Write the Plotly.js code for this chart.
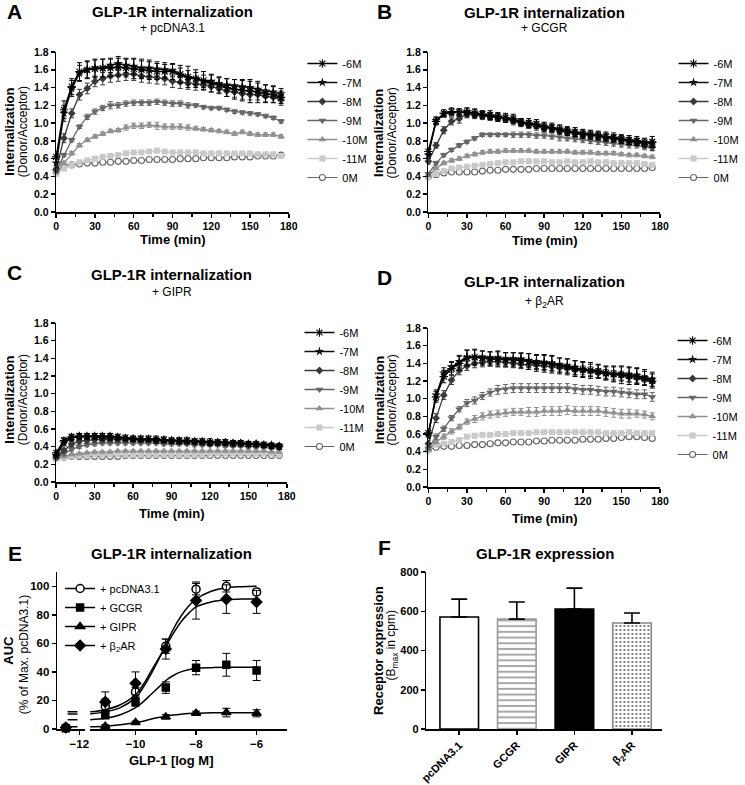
<!DOCTYPE html>
<html><head><meta charset="utf-8">
<script src="https://cdn.plot.ly/plotly-3.0.1.min.js"></script>
<style>html,body{margin:0;padding:0;background:#fff}#chart{width:745px;height:785px}</style>
</head><body><div id="chart"></div>
<script>
// time course, minutes
const time = [0,6,12,18,24,30,36,42,48,54,60,66,72,78,84,90,96,102,108,114,120,126,132,138,144,150,156,162,168,174];
const doses = ['-6M','-7M','-8M','-9M','-10M','-11M','0M'];

// A: + pcDNA3.1
const aM6 = [0.62,1.15,1.41,1.58,1.60,1.61,1.62,1.62,1.63,1.62,1.61,1.60,1.59,1.58,1.58,1.58,1.55,1.52,1.50,1.48,1.45,1.43,1.40,1.38,1.37,1.36,1.35,1.33,1.32,1.29];
const aM7 = [0.55,1.11,1.39,1.56,1.60,1.62,1.62,1.65,1.67,1.65,1.64,1.62,1.62,1.61,1.60,1.59,1.54,1.51,1.50,1.47,1.47,1.44,1.43,1.42,1.41,1.40,1.38,1.36,1.35,1.33];
const aM8 = [0.48,0.83,1.11,1.32,1.39,1.47,1.50,1.53,1.54,1.55,1.55,1.53,1.52,1.51,1.50,1.47,1.46,1.45,1.44,1.43,1.41,1.39,1.36,1.35,1.33,1.32,1.32,1.30,1.29,1.26];
const aM9 = [0.46,0.64,0.81,0.96,1.07,1.13,1.17,1.20,1.20,1.22,1.23,1.23,1.23,1.24,1.23,1.22,1.22,1.20,1.20,1.18,1.17,1.17,1.15,1.13,1.12,1.11,1.10,1.08,1.06,1.02];
const aM10 = [0.45,0.55,0.66,0.75,0.81,0.85,0.88,0.91,0.92,0.95,0.97,0.97,0.98,0.97,0.96,0.96,0.96,0.95,0.94,0.93,0.92,0.91,0.90,0.88,0.90,0.88,0.87,0.87,0.87,0.85];
const aM11 = [0.43,0.49,0.53,0.56,0.58,0.60,0.62,0.63,0.64,0.66,0.67,0.67,0.68,0.69,0.68,0.67,0.67,0.67,0.67,0.66,0.66,0.66,0.66,0.66,0.66,0.66,0.65,0.65,0.65,0.63];
const aM0 = [0.47,0.51,0.53,0.54,0.55,0.55,0.56,0.56,0.57,0.57,0.58,0.58,0.59,0.59,0.59,0.59,0.60,0.60,0.60,0.61,0.61,0.61,0.61,0.62,0.62,0.62,0.63,0.63,0.63,0.64];
const aE6 = [0.06,0.10,0.09,0.10,0.10,0.10,0.10,0.10,0.10,0.10,0.11,0.10,0.10,0.09,0.08,0.09,0.10,0.12,0.10,0.10,0.10,0.09,0.10,0.11,0.12,0.13,0.12,0.10,0.09,0.07];
const aE7 = [0.05,0.09,0.09,0.09,0.09,0.10,0.10,0.08,0.08,0.08,0.09,0.10,0.09,0.08,0.08,0.07,0.08,0.08,0.07,0.07,0.07,0.07,0.07,0.07,0.07,0.07,0.07,0.07,0.07,0.06];
const aE8 = [0.03,0.05,0.05,0.06,0.06,0.06,0.07,0.07,0.07,0.07,0.07,0.07,0.07,0.07,0.07,0.07,0.07,0.07,0.07,0.06,0.06,0.06,0.06,0.06,0.06,0.06,0.06,0.06,0.06,0.06];
const aE9 = [0.02,0.02,0.02,0.02,0.03,0.03,0.03,0.04,0.03,0.03,0.03,0.03,0.03,0.03,0.03,0.03,0.03,0.03,0.02,0.02,0.02,0.02,0.02,0.02,0.02,0.02,0.02,0.02,0.02,0.02];
const aE10 = [0.02,0.02,0.02,0.02,0.02,0.02,0.02,0.02,0.02,0.03,0.03,0.03,0.03,0.04,0.03,0.03,0.03,0.03,0.02,0.02,0.02,0.02,0.02,0.02,0.02,0.02,0.02,0.02,0.02,0.02];

// B: + GCGR
const bM6 = [0.68,1.02,1.11,1.13,1.12,1.12,1.11,1.10,1.09,1.07,1.06,1.05,1.01,1.00,0.99,0.96,0.95,0.93,0.91,0.90,0.88,0.87,0.86,0.85,0.84,0.82,0.81,0.80,0.78,0.79];
const bM7 = [0.64,1.03,1.10,1.12,1.12,1.13,1.11,1.09,1.08,1.07,1.05,1.04,1.01,0.99,0.98,0.96,0.94,0.93,0.91,0.89,0.88,0.87,0.86,0.84,0.83,0.82,0.80,0.79,0.78,0.77];
const bM8 = [0.57,0.75,0.92,1.02,1.05,1.10,1.09,1.08,1.07,1.06,1.05,1.02,1.00,0.98,0.96,0.94,0.94,0.91,0.90,0.88,0.87,0.86,0.85,0.83,0.82,0.81,0.79,0.78,0.76,0.73];
const bM9 = [0.43,0.55,0.64,0.70,0.75,0.79,0.83,0.87,0.87,0.87,0.87,0.87,0.87,0.87,0.86,0.86,0.85,0.84,0.83,0.82,0.81,0.80,0.79,0.78,0.77,0.76,0.75,0.75,0.73,0.72];
const bM10 = [0.41,0.49,0.55,0.58,0.60,0.63,0.65,0.67,0.68,0.68,0.69,0.69,0.69,0.69,0.68,0.68,0.68,0.68,0.68,0.67,0.67,0.67,0.66,0.66,0.66,0.65,0.64,0.64,0.63,0.62];
const bM11 = [0.39,0.43,0.46,0.49,0.50,0.51,0.52,0.53,0.54,0.55,0.56,0.56,0.57,0.57,0.57,0.57,0.56,0.56,0.57,0.56,0.56,0.57,0.56,0.56,0.55,0.55,0.55,0.55,0.54,0.53];
const bM0 = [0.40,0.42,0.44,0.45,0.45,0.45,0.45,0.46,0.47,0.47,0.48,0.48,0.48,0.48,0.49,0.49,0.49,0.49,0.49,0.49,0.49,0.49,0.49,0.49,0.49,0.49,0.49,0.49,0.49,0.50];
const bE6 = [0.04,0.04,0.04,0.04,0.04,0.05,0.05,0.04,0.05,0.05,0.05,0.05,0.04,0.05,0.05,0.05,0.05,0.05,0.05,0.05,0.05,0.05,0.05,0.05,0.05,0.05,0.05,0.05,0.05,0.06];
const bE7 = [0.03,0.04,0.03,0.04,0.04,0.04,0.04,0.04,0.04,0.04,0.04,0.04,0.04,0.04,0.04,0.04,0.04,0.04,0.04,0.04,0.04,0.04,0.04,0.04,0.04,0.04,0.04,0.04,0.04,0.04];
const bE8 = [0.03,0.03,0.04,0.04,0.05,0.04,0.04,0.04,0.04,0.04,0.04,0.04,0.04,0.04,0.04,0.04,0.04,0.04,0.04,0.04,0.04,0.04,0.04,0.04,0.04,0.04,0.04,0.04,0.04,0.04];
const bE9 = [0.02,0.02,0.02,0.02,0.02,0.02,0.02,0.02,0.02,0.02,0.02,0.03,0.03,0.03,0.03,0.03,0.03,0.04,0.03,0.03,0.03,0.03,0.03,0.03,0.03,0.03,0.03,0.03,0.03,0.03];
const bE10 = [0.01,0.01,0.02,0.02,0.02,0.02,0.02,0.02,0.02,0.02,0.02,0.02,0.02,0.02,0.02,0.02,0.02,0.02,0.02,0.02,0.02,0.02,0.02,0.02,0.02,0.02,0.02,0.02,0.02,0.02];

// C: + GIPR
const cM6 = [0.33,0.47,0.51,0.52,0.52,0.52,0.52,0.52,0.51,0.50,0.49,0.49,0.49,0.48,0.48,0.47,0.47,0.47,0.46,0.46,0.45,0.45,0.45,0.44,0.44,0.43,0.43,0.42,0.41,0.40];
const cM7 = [0.30,0.44,0.50,0.51,0.51,0.51,0.50,0.50,0.50,0.49,0.49,0.48,0.48,0.48,0.47,0.47,0.46,0.46,0.46,0.45,0.45,0.45,0.44,0.44,0.44,0.43,0.43,0.42,0.42,0.41];
const cM8 = [0.28,0.36,0.43,0.46,0.47,0.48,0.48,0.48,0.48,0.48,0.48,0.47,0.47,0.47,0.46,0.46,0.46,0.45,0.45,0.45,0.44,0.44,0.44,0.43,0.43,0.43,0.42,0.42,0.41,0.41];
const cM9 = [0.28,0.32,0.37,0.40,0.42,0.43,0.44,0.44,0.44,0.44,0.44,0.44,0.44,0.44,0.43,0.43,0.43,0.43,0.42,0.42,0.42,0.42,0.41,0.41,0.41,0.40,0.40,0.40,0.39,0.39];
const cM10 = [0.27,0.29,0.31,0.32,0.33,0.34,0.34,0.34,0.35,0.35,0.35,0.35,0.35,0.35,0.35,0.35,0.35,0.35,0.35,0.35,0.35,0.35,0.35,0.35,0.35,0.35,0.35,0.35,0.34,0.34];
const cM11 = [0.26,0.28,0.29,0.30,0.30,0.31,0.31,0.31,0.31,0.31,0.31,0.31,0.31,0.31,0.31,0.31,0.31,0.31,0.31,0.31,0.32,0.32,0.32,0.32,0.32,0.32,0.32,0.32,0.32,0.31];
const cM0 = [0.28,0.28,0.29,0.29,0.29,0.29,0.29,0.29,0.29,0.30,0.30,0.30,0.30,0.30,0.30,0.30,0.30,0.30,0.30,0.30,0.30,0.30,0.30,0.30,0.30,0.30,0.30,0.30,0.30,0.30];
const cE6 = [0.02,0.03,0.03,0.03,0.03,0.03,0.03,0.03,0.03,0.03,0.03,0.03,0.03,0.04,0.03,0.03,0.03,0.03,0.03,0.03,0.04,0.03,0.03,0.03,0.03,0.03,0.03,0.03,0.03,0.03];
const cE7 = [0.02,0.03,0.03,0.03,0.03,0.03,0.03,0.03,0.02,0.02,0.02,0.02,0.02,0.02,0.02,0.02,0.03,0.02,0.02,0.02,0.02,0.02,0.02,0.02,0.02,0.02,0.02,0.02,0.02,0.02];
const cE8 = [0.02,0.02,0.03,0.03,0.03,0.03,0.03,0.03,0.03,0.03,0.02,0.02,0.02,0.02,0.02,0.02,0.02,0.02,0.02,0.02,0.02,0.02,0.02,0.02,0.02,0.02,0.02,0.02,0.02,0.02];
const cE9 = [0.01,0.02,0.02,0.02,0.02,0.02,0.02,0.02,0.02,0.02,0.02,0.02,0.02,0.02,0.02,0.02,0.02,0.02,0.02,0.02,0.02,0.02,0.02,0.02,0.02,0.02,0.02,0.02,0.02,0.02];
const cE10 = [0.01,0.01,0.01,0.01,0.01,0.01,0.01,0.01,0.01,0.01,0.01,0.01,0.01,0.01,0.01,0.01,0.01,0.01,0.01,0.01,0.01,0.01,0.01,0.01,0.01,0.01,0.01,0.01,0.01,0.01];

// D: + b2AR
const dM6 = [0.61,1.02,1.25,1.34,1.40,1.46,1.47,1.46,1.45,1.45,1.44,1.44,1.43,1.42,1.40,1.40,1.39,1.37,1.36,1.34,1.33,1.32,1.31,1.29,1.28,1.27,1.26,1.25,1.23,1.20];
const dM7 = [0.60,1.04,1.29,1.36,1.42,1.47,1.47,1.47,1.46,1.46,1.45,1.45,1.45,1.43,1.42,1.41,1.40,1.38,1.37,1.35,1.33,1.32,1.31,1.29,1.28,1.28,1.27,1.26,1.24,1.22];
const dM8 = [0.49,0.78,1.04,1.21,1.32,1.37,1.40,1.41,1.42,1.42,1.41,1.40,1.39,1.38,1.38,1.37,1.36,1.35,1.34,1.32,1.32,1.31,1.29,1.28,1.27,1.26,1.24,1.23,1.21,1.19];
const dM9 = [0.44,0.57,0.66,0.78,0.88,0.95,0.98,1.03,1.07,1.10,1.11,1.12,1.12,1.12,1.12,1.12,1.12,1.12,1.12,1.11,1.10,1.10,1.09,1.08,1.08,1.07,1.06,1.05,1.05,1.02];
const dM10 = [0.43,0.51,0.57,0.63,0.68,0.74,0.77,0.80,0.82,0.83,0.84,0.85,0.85,0.85,0.85,0.86,0.86,0.86,0.87,0.86,0.86,0.86,0.86,0.85,0.84,0.83,0.83,0.83,0.82,0.80];
const dM11 = [0.42,0.48,0.49,0.51,0.53,0.57,0.58,0.59,0.59,0.60,0.60,0.61,0.61,0.61,0.62,0.62,0.62,0.62,0.62,0.62,0.62,0.62,0.62,0.61,0.61,0.61,0.62,0.61,0.61,0.61];
const dM0 = [0.42,0.45,0.46,0.46,0.47,0.47,0.48,0.48,0.49,0.50,0.50,0.51,0.51,0.51,0.52,0.52,0.53,0.53,0.53,0.53,0.54,0.54,0.54,0.55,0.55,0.56,0.57,0.57,0.56,0.55];
const dE6 = [0.05,0.06,0.07,0.07,0.08,0.09,0.09,0.08,0.08,0.09,0.08,0.08,0.08,0.09,0.09,0.10,0.10,0.09,0.09,0.09,0.09,0.09,0.08,0.08,0.09,0.10,0.10,0.09,0.08,0.08];
const dE7 = [0.05,0.06,0.06,0.06,0.07,0.08,0.08,0.07,0.07,0.07,0.07,0.07,0.07,0.08,0.08,0.08,0.08,0.08,0.08,0.08,0.08,0.07,0.07,0.07,0.08,0.08,0.08,0.09,0.09,0.08];
const dE8 = [0.04,0.05,0.05,0.05,0.05,0.05,0.05,0.05,0.05,0.05,0.05,0.05,0.05,0.05,0.05,0.05,0.05,0.05,0.05,0.05,0.05,0.05,0.05,0.05,0.05,0.05,0.05,0.05,0.05,0.05];
const dE9 = [0.02,0.03,0.03,0.03,0.03,0.04,0.04,0.04,0.04,0.05,0.05,0.05,0.05,0.05,0.05,0.05,0.05,0.05,0.05,0.05,0.05,0.05,0.05,0.05,0.05,0.05,0.05,0.05,0.05,0.05];
const dE10 = [0.02,0.02,0.03,0.03,0.03,0.03,0.04,0.04,0.04,0.04,0.04,0.04,0.04,0.05,0.05,0.05,0.05,0.05,0.05,0.05,0.05,0.05,0.05,0.05,0.05,0.05,0.05,0.04,0.04,0.04];

// E: dose response (AUC, % of max pcDNA3.1)
const constructs = ['+ pcDNA3.1','+ GCGR','+ GIPR','+ β<sub>2</sub>AR'];
const logDose = [-11,-10,-9,-8,-7,-6];
const aucPc = [16,26,58,98,100,96];
const aucGcgr = [10,19,29,43,45,41];
const aucGipr = [2,4.5,8.5,11,11.5,11];
const aucB2 = [19,32,56,90,91,89];
const errPc = [5,3,5,4,4,2];
const errGcgr = [3,3,4,5,8,7];
const errGipr = [1,1,1.5,1.5,3,2.5];
const errB2 = [7,8,7,13,10,8];
const zeroDose = [-12.45];           // 0M point drawn on the broken axis
const zeroAuc = [1,0.5,0.5,1];
const fitX = [-11.5,-11,-10.5,-10,-9.75,-9.5,-9.25,-9,-8.75,-8.5,-8.25,-8,-7.5,-7,-6.5,-6];
const fitPc = [10.5,12,15,22,29,38,48,59,70,79,86,91,96.5,99,99.7,100];
const fitGcgr = [6.5,7.5,10,15,19,24,29,34,37.5,40,41.5,42.5,43,43.2,43.3,43.3];
const fitGipr = [1.5,2,3,4.5,5.5,6.8,8,9,9.8,10.4,10.8,11,11.3,11.4,11.4,11.4];
const fitB2 = [12,13.5,17,24,31,40,49,58,67,75,81,85.5,89,90.5,91,91];
const fitLeftX = [-12.39,-12.06];

// F: expression
const cells = ['pcDNA3.1','GCGR','GIPR','β<sub>2</sub>AR'];
const bmax = [571,560,611,540];
const bmaxErr = [91,87,107,51];

const W = 745, H = 785;
const px = v => v / W, py = v => 1 - v / H;
const FONT = 'Liberation Sans, Arial, sans-serif';

const sty = [
  {symbol:'asterisk-open', color:'#000', size:7, lw:1.6},
  {symbol:'star', color:'#111', size:7, lw:1.6},
  {symbol:'diamond', color:'#3a3a3a', size:6, lw:1.3},
  {symbol:'triangle-down', color:'#666', size:7, lw:1.3},
  {symbol:'triangle-up', color:'#909090', size:7, lw:1.3},
  {symbol:'square', color:'#c9c9c9', size:6, lw:1.3},
  {symbol:'circle', color:'#fff', edge:'#666', size:6, lw:1}
];

const traces = [];
function timePanel(n, leg, vals, errs) {
  for (let i = vals.length - 1; i >= 0; i--) {
    const s = sty[i];
    const lc = s.edge || s.color;
    const t = {type:'scatter', mode:'lines+markers', x:time, y:vals[i], xaxis:'x'+n, yaxis:'y'+n,
      name:doses[i], legend:leg, cliponaxis:false, hoverinfo:'skip',
      line:{color:lc, width:s.lw},
      marker:{symbol:s.symbol, size:s.size, color:s.color, line:{color:lc, width:(s.edge || s.symbol.endsWith('open')) ? 1.1 : 0}}};
    if (errs[i]) t.error_y = {type:'data', array:errs[i], color:lc, thickness:1, width:2.5};
    traces.push(t);
  }
}
timePanel('', 'legend', [aM6,aM7,aM8,aM9,aM10,aM11,aM0], [aE6,aE7,aE8,aE9,aE10]);
timePanel('2', 'legend2', [bM6,bM7,bM8,bM9,bM10,bM11,bM0], [bE6,bE7,bE8,bE9,bE10]);
timePanel('3', 'legend3', [cM6,cM7,cM8,cM9,cM10,cM11,cM0], [cE6,cE7,cE8,cE9,cE10]);
timePanel('4', 'legend4', [dM6,dM7,dM8,dM9,dM10,dM11,dM0], [dE6,dE7,dE8,dE9,dE10]);

// E
const eSym = [
  {symbol:'circle', color:'#fff', size:8},
  {symbol:'square', color:'#000', size:7},
  {symbol:'triangle-up', color:'#000', size:8},
  {symbol:'diamond', color:'#000', size:8}
];
const eVals = [aucPc, aucGcgr, aucGipr, aucB2];
const eErrs = [errPc, errGcgr, errGipr, errB2];
const eFits = [fitPc, fitGcgr, fitGipr, fitB2];
eVals.forEach((v, i) => {
  const m = {symbol:eSym[i].symbol, size:eSym[i].size, color:eSym[i].color, line:{color:'#000', width:1.5}};
  traces.push({type:'scatter', mode:'lines', x:fitX, y:eFits[i], xaxis:'x6', yaxis:'y5', line:{color:'#000', width:1.5, shape:'spline'}, showlegend:false, hoverinfo:'skip'});
  traces.push({type:'scatter', mode:'lines', x:fitLeftX, y:[eFits[i][0], eFits[i][0]], xaxis:'x5', yaxis:'y5', line:{color:'#000', width:1.5}, showlegend:false, hoverinfo:'skip'});
  traces.push({type:'scatter', mode:'markers', x:logDose, y:v, xaxis:'x6', yaxis:'y5', marker:m, cliponaxis:false, showlegend:false,
    error_y:{type:'data', array:eErrs[i], color:'#000', thickness:1, width:4}});
  traces.push({type:'scatter', mode:'markers', x:zeroDose, y:[zeroAuc[i]], xaxis:'x5', yaxis:'y5', marker:m, cliponaxis:false, showlegend:false});
  traces.push({type:'scatter', mode:'lines+markers', x:[null], y:[null], xaxis:'x6', yaxis:'y5', name:constructs[i], legend:'legend5',
    marker:m, line:{color:'#000', width:1.5}});
});

// F: one trace per bar so each keeps its own fill pattern
const fStyle = [
  {fill:'#fff', edge:'#000', shape:'', fg:'#000', size:6, sol:0.3},
  {fill:'#fff', edge:'#9a9a9a', shape:'-', fg:'#a8a8a8', size:5.7, sol:0.35},
  {fill:'#000', edge:'#000', shape:'', fg:'#000', size:6, sol:0.3},
  {fill:'#fff', edge:'#888', shape:'.', fg:'#555', size:4, sol:0.2}
];
cells.forEach((c, i) => {
  const s = fStyle[i];
  const mk = {color:s.fill, line:{color:s.edge, width:1.6}};
  if (s.shape) mk.pattern = {shape:s.shape, fgcolor:s.fg, bgcolor:s.fill, size:s.size, solidity:s.sol, fillmode:'replace'};
  traces.push({type:'bar', x:[i], y:[bmax[i]], xaxis:'x7', yaxis:'y7', width:0.67, showlegend:false, marker:mk,
    error_y:{type:'data', symmetric:false, array:[bmaxErr[i]], arrayminus:[0], color:'#000', thickness:1.6, width:8}});
});

const axBase = {showline:true, linecolor:'#000', linewidth:1.5, ticks:'outside', ticklen:4, tickwidth:1.5, tickcolor:'#000',
  showgrid:false, zeroline:false, fixedrange:true, tickfont:{family:FONT, size:10.5, color:'#000', weight:'bold'}};
const timeX = (dom, a) => Object.assign({}, axBase, {domain:dom, anchor:a, range:[0,180], tickvals:[0,30,60,90,120,150,180],
  minor:{dtick:15, ticks:'outside', ticklen:3, tickwidth:1.5, tickcolor:'#000'}});
const timeY = (dom, a) => Object.assign({}, axBase, {domain:dom, anchor:a, range:[0,1.8], dtick:0.2, tickformat:'.1f'});
const bigTick = Object.assign({}, axBase.tickfont, {size:11.5});

const colL = [px(58), px(298)], colR = [px(442), px(681)];
const layout = {
  width:W, height:H, margin:{l:0, r:0, t:0, b:0}, paper_bgcolor:'#fff', plot_bgcolor:'rgba(0,0,0,0)',
  font:{family:FONT, color:'#000'}, barmode:'overlay',
  xaxis:timeX(colL, 'y'), yaxis:timeY([py(212), py(52)], 'x'),
  xaxis2:timeX(colR, 'y2'), yaxis2:timeY([py(212), py(52)], 'x2'),
  xaxis3:timeX([px(58), px(296)], 'y3'), yaxis3:timeY([py(482), py(323)], 'x3'),
  xaxis4:timeX(colR, 'y4'), yaxis4:timeY([py(487), py(328)], 'x4'),
  xaxis5:Object.assign({}, axBase, {domain:[px(59), px(88)], anchor:'y5', range:[-12.74,-11.8], tickvals:[-12], tickfont:bigTick}),
  xaxis6:Object.assign({}, axBase, {domain:[px(93), px(296)], anchor:'y5', range:[-11.5,-5.0], tickvals:[-10,-8,-6], tickfont:bigTick}),
  yaxis5:Object.assign({}, axBase, {domain:[py(729), py(572)], anchor:'x5', range:[0,110], tickvals:[0,20,40,60,80,100], tickfont:bigTick}),
  xaxis7:Object.assign({}, axBase, {domain:[px(440), px(683)], anchor:'y7', range:[-0.57,3.52], tickvals:[0,1,2,3], ticktext:cells, tickangle:-45, tickfont:Object.assign({}, axBase.tickfont, {size:11})}),
  yaxis7:Object.assign({}, axBase, {domain:[py(729), py(572)], anchor:'x7', range:[0,800], dtick:200, tickfont:Object.assign({}, axBase.tickfont, {size:11})}),
  annotations:[], showlegend:true
};

function leg(x, y, order, size) {
  return {x:px(x), y:py(y), xanchor:'left', yanchor:'top', bgcolor:'rgba(0,0,0,0)', borderwidth:0,
    font:{family:FONT, size:size, color:'#000'}, traceorder:order, itemclick:false, itemdoubleclick:false};
}
layout.legend = leg(312, 49, 'reversed', 11);
layout.legend2 = leg(695, 49, 'reversed', 11);
layout.legend3 = leg(309, 318, 'reversed', 11);
layout.legend4 = leg(694, 326, 'reversed', 11);
layout.legend5 = leg(62, 574, 'normal', 11);

function ann(text, x, y, size, angle) {
  layout.annotations.push({text, x:px(x), y:py(y), xref:'paper', yref:'paper', showarrow:false,
    xanchor:'center', yanchor:'middle', textangle:angle || 0, font:{family:FONT, size, color:'#000'}});
}
const heads = [
  ['A', 15, 12, 178, 12, 28, '+ pcDNA3.1'],
  ['B', 397, 12, 562, 13, 28, '+ GCGR'],
  ['C', 15, 273, 177, 275, 292, '+ GIPR'],
  ['D', 397, 278, 562, 282, 302, '+ β<sub>2</sub>AR']
];
heads.forEach(h => {
  ann('<b>' + h[0] + '</b>', h[1], h[2], 21);
  ann('<b>GLP-1R internalization</b>', h[3], h[4], 15);
  ann(h[6], h[3], h[5], 12);
});
ann('<b>E</b>', 15, 553, 21);
ann('<b>GLP-1R internalization</b>', 177, 553, 15);
ann('<b>F</b>', 397, 547, 21);
ann('<b>GLP-1R expression</b>', 562, 553, 15);

[[178, 240], [562, 241], [177, 513], [562, 518]].forEach(p => ann('<b>Time (min)</b>', p[0], p[1], 13));
[[10, 24, 132], [391, 405, 133], [9, 24, 400], [391, 405, 400]].forEach(p => {
  ann('<b>Internalization</b>', p[0], p[2], 13, -90);
  ann('(Donor/Acceptor)', p[1], p[2], 12, -90);
});
ann('<b>GLP-1 [log M]</b>', 177, 760, 13);
ann('<b>AUC</b>', 8, 650, 13, -90);
ann('(% of Max. pcDNA3.1)', 25, 655, 12, -90);
ann('<b>Receptor expression</b>', 390, 650, 13, -90);
ann('(B<sub>max</sub> in cpm)', 405, 645, 12, -90);

Plotly.newPlot('chart', traces, layout, {displayModeBar:false, staticPlot:true});
</script>
</body></html>
